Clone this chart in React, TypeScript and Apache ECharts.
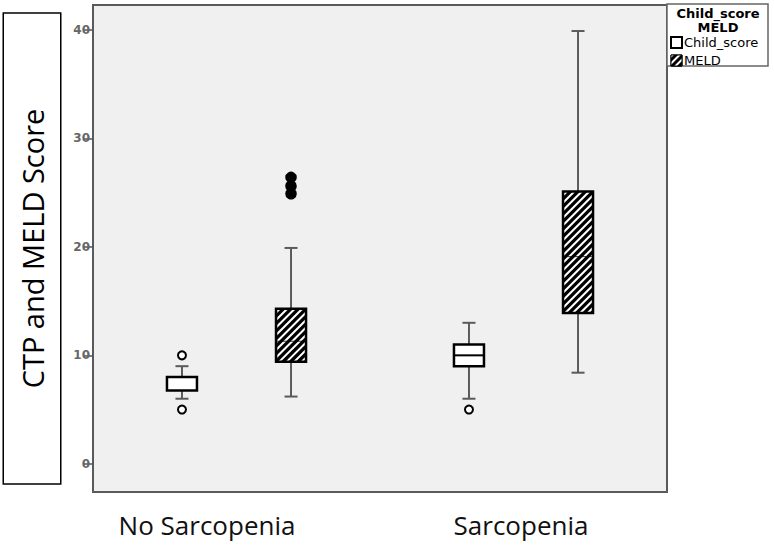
import React, { useEffect, useRef } from "react";
import * as echarts from "echarts";

// ---- data ----
const categories = ["No Sarcopenia", "Sarcopenia"];
const seriesNames = ["Child_score", "MELD"];
// [categoryIndex, lowWhisker, Q1, median, Q3, highWhisker]
const childBoxes = [
  [0, 6, 6.75, 8, 8, 9],
  [1, 6, 9, 10, 11, 13],
];
const meldBoxes = [
  [0, 6.2, 9.4, 11.3, 14.3, 19.9],
  [1, 8.4, 13.9, 19.1, 25.1, 39.9],
];
// [categoryIndex, value]
const childOutliers = [
  [0, 10],
  [0, 5],
  [1, 5],
];
const meldOutliers = [
  [0, 26.4],
  [0, 25.6],
  [0, 24.9],
];
const yTicks = [0, 10, 20, 30, 40];
const yTitle = "CTP and MELD Score";
const legendTitleLines = ["Child_score", "MELD"];

// ---- style constants ----
const BOX_W = 30;
const CAP_W = 13;
const OFFSET = 0.19;

function boxRenderer(offset: number, hatched: boolean) {
  return (params: any, api: any) => {
    const cat = api.value(0);
    const band = api.size([1, 0])[0];
    const cx = api.coord([cat, 0])[0] + offset * band;
    const yOf = (v: number) => api.coord([cat, v])[1];
    const yLow = yOf(api.value(1));
    const yQ1 = yOf(api.value(2));
    const yMed = yOf(api.value(3));
    const yQ3 = yOf(api.value(4));
    const yHigh = yOf(api.value(5));
    const x0 = cx - BOX_W / 2;
    const h = yQ1 - yQ3;
    const whisker = { stroke: "#5a5a5a", lineWidth: 2 };
    const children: any[] = [
      { type: "line", shape: { x1: cx, y1: yHigh, x2: cx, y2: yQ3 }, style: whisker },
      { type: "line", shape: { x1: cx, y1: yQ1, x2: cx, y2: yLow }, style: whisker },
      { type: "line", shape: { x1: cx - CAP_W / 2, y1: yHigh, x2: cx + CAP_W / 2, y2: yHigh }, style: whisker },
      { type: "line", shape: { x1: cx - CAP_W / 2, y1: yLow, x2: cx + CAP_W / 2, y2: yLow }, style: whisker },
      {
        type: "rect",
        shape: { x: x0, y: yQ3, width: BOX_W, height: h },
        style: { fill: hatched ? "#000" : "#fff" },
      },
    ];
    if (hatched) {
      const step = 7.5;
      const cStart = x0 + yQ3;
      const cEnd = x0 + BOX_W + yQ3 + h;
      for (let c = cStart + step / 2; c < cEnd; c += step) {
        const xa = Math.max(x0, c - (yQ3 + h));
        const xb = Math.min(x0 + BOX_W, c - yQ3);
        if (xb > xa) {
          children.push({
            type: "line",
            shape: { x1: xa, y1: c - xa, x2: xb, y2: c - xb },
            style: { stroke: "#fff", lineWidth: 2 },
          });
        }
      }
    }
    children.push({
      type: "line",
      shape: { x1: x0, y1: yMed, x2: x0 + BOX_W, y2: yMed },
      style: { stroke: "#000", lineWidth: hatched ? 0.8 : 2 },
    });
    children.push({
      type: "rect",
      shape: { x: x0, y: yQ3, width: BOX_W, height: h },
      style: { fill: "none", stroke: "#000", lineWidth: 2.5 },
    });
    return { type: "group", children };
  };
}

function outlierRenderer(offset: number, filled: boolean) {
  return (params: any, api: any) => {
    const cat = api.value(0);
    const band = api.size([1, 0])[0];
    const p = api.coord([cat, api.value(1)]);
    return {
      type: "circle",
      shape: { cx: p[0] + offset * band, cy: p[1], r: filled ? 4.8 : 4 },
      style: { fill: filled ? "#000" : "#fff", stroke: "#000", lineWidth: 2 },
    };
  };
}

export default function App() {
  const ref = useRef<HTMLDivElement>(null);
  useEffect(() => {
    if (!ref.current) return;
    const chart = echarts.init(ref.current, null, { renderer: "svg" });
    const option: any = {
      animation: false,
      backgroundColor: "#fff",
      grid: {
        left: 93,
        top: 5,
        right: 107,
        bottom: 53,
        containLabel: false,
        outerBoundsMode: "none",
        show: true,
        backgroundColor: "#f0f0f0",
        borderColor: "#5a5a5a",
        borderWidth: 2,
      },
      xAxis: {
        type: "category",
        data: categories,
        axisLine: { show: false },
        axisTick: { show: false },
        splitLine: { show: false },
        axisLabel: {
          margin: 20,
          color: "#111",
          fontSize: 26,
          fontFamily: "Open Sans",
          formatter: (v: string, i: number) => (i === 0 ? `{l|${v}}` : `{r|${v}}`),
          rich: {
            l: { fontSize: 26, fontFamily: "Open Sans", color: "#111", padding: [0, 59, 0, 0] },
            r: { fontSize: 26, fontFamily: "Open Sans", color: "#111", padding: [0, 5, 0, 0] },
          },
        },
      },
      yAxis: {
        type: "value",
        min: -2.6,
        max: 42.3,
        splitLine: { show: false },
        axisLine: { show: false },
        axisTick: {
          show: true,
          length: 9,
          customValues: yTicks,
          lineStyle: { color: "#555", width: 1.5 },
        },
        axisLabel: {
          customValues: yTicks,
          margin: 3,
          color: "#666",
          fontSize: 12,
          fontWeight: "bold",
          fontFamily: "DejaVu Sans",
        },
        name: yTitle,
        nameLocation: "middle",
        nameRotate: 90,
        nameGap: 33,
        nameTextStyle: {
          fontSize: 29,
          fontFamily: "Open Sans",
          color: "#000",
          lineHeight: 28,
          padding: [14, 95, 14, 95],
          borderColor: "#000",
          borderWidth: 1.5,
          backgroundColor: "#fff",
        },
      },
      legend: {
        orient: "vertical",
        left: 670,
        top: 36,
        itemWidth: 11,
        itemHeight: 11,
        itemGap: 5,
        padding: 0,
        textStyle: { fontSize: 13, fontFamily: "DejaVu Sans", color: "#000", padding: [0, 0, 0, -3] },
        data: [
          { name: seriesNames[0], icon: "rect", itemStyle: { color: "#fff", borderColor: "#000", borderWidth: 2 } },
          {
            name: seriesNames[1],
            icon: "rect",
            itemStyle: {
              color: "#000",
              borderColor: "#000",
              borderWidth: 1,
              decal: {
                symbol: "rect",
                symbolSize: 1,
                color: "#fff",
                backgroundColor: "#000",
                dashArrayX: [1, 0],
                dashArrayY: [2, 3],
                rotation: -Math.PI / 4,
              },
            },
          },
        ],
      },
      graphic: [
        {
          type: "rect",
          z: 0,
          shape: { x: 667, y: 4, width: 101, height: 62 },
          style: { fill: "#fff", stroke: "#666", lineWidth: 1.5 },
        },
        {
          type: "text",
          z: 10,
          x: 718,
          y: 7,
          style: {
            text: legendTitleLines[0],
            align: "center",
            verticalAlign: "top",
            fontSize: 13,
            fontWeight: "bold",
            fontFamily: "DejaVu Sans",
            fill: "#000",
          },
        },
        {
          type: "text",
          z: 10,
          x: 718,
          y: 21,
          style: {
            text: legendTitleLines[1],
            align: "center",
            verticalAlign: "top",
            fontSize: 13,
            fontWeight: "bold",
            fontFamily: "DejaVu Sans",
            fill: "#000",
          },
        },
      ],
      series: [
        {
          name: seriesNames[0],
          type: "custom",
          data: childBoxes,
          encode: { x: 0, y: [1, 2, 3, 4, 5] },
          itemStyle: { color: "#fff", borderColor: "#000" },
          renderItem: boxRenderer(-OFFSET, false),
        },
        {
          name: seriesNames[1],
          type: "custom",
          data: meldBoxes,
          encode: { x: 0, y: [1, 2, 3, 4, 5] },
          itemStyle: { color: "#000" },
          renderItem: boxRenderer(OFFSET, true),
        },
        {
          name: seriesNames[0],
          type: "custom",
          data: childOutliers,
          encode: { x: 0, y: 1 },
          itemStyle: { color: "#fff", borderColor: "#000" },
          renderItem: outlierRenderer(-OFFSET, false),
        },
        {
          name: seriesNames[1],
          type: "custom",
          data: meldOutliers,
          encode: { x: 0, y: 1 },
          itemStyle: { color: "#000" },
          renderItem: outlierRenderer(OFFSET, true),
        },
      ],
    };
    chart.setOption(option);
    return () => chart.dispose();
  }, []);
  return (
    <div
      ref={ref}
      style={{ position: "fixed", left: 0, top: 0, width: 774, height: 545 }}
    />
  );
}
